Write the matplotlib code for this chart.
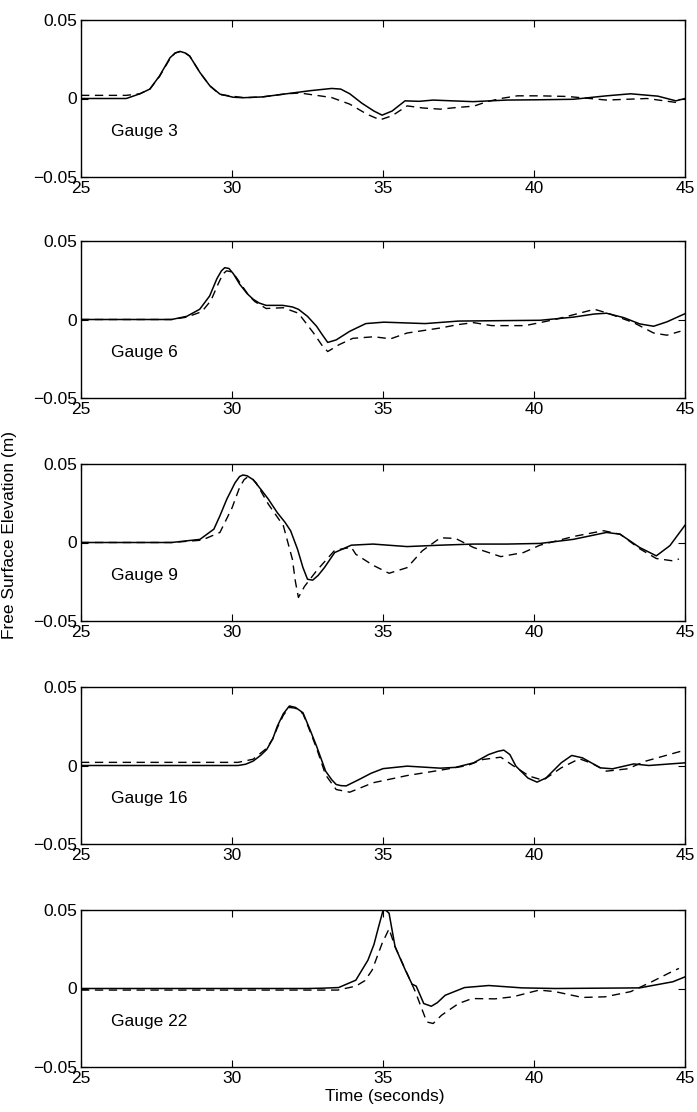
import numpy as np
import matplotlib.pyplot as plt

plt.rcParams['font.family'] = ['Liberation Sans', 'DejaVu Sans']
plt.rcParams['font.size'] = 12.5

# Gauge 3
t3_mod = [25, 26.5, 26.95, 27.28, 27.6, 27.95, 28.12, 28.28, 28.45, 28.6, 28.94, 29.27, 29.6, 30.04, 30.37, 31.0,
          31.8, 32.6, 33.3, 33.6, 33.9, 34.3, 34.7, 34.97, 35.3, 35.73, 36.2, 36.66, 37.3, 37.98, 39.1, 40.2,
          41.3, 42.4, 43.2, 44.1, 44.7, 45]
e3_mod = [0, 0, 0.003, 0.006, 0.0144, 0.026, 0.029, 0.030, 0.029, 0.027, 0.0165, 0.008, 0.0028, 0.0008, 0.0005, 0.001,
          0.003, 0.005, 0.0064, 0.006, 0.003, -0.003, -0.008, -0.0106, -0.008, -0.0015, -0.0018, -0.001, -0.0015, -0.002, -0.001, -0.0008,
          -0.0005, 0.0017, 0.003, 0.0015, -0.0015, 0]
t3_obs = [25, 26.5, 26.95, 27.28, 27.6, 27.95, 28.12, 28.3, 28.45, 28.6, 28.94, 29.27, 29.6, 30.4, 31.0, 31.8,
          32.25, 32.8, 33.3, 33.9, 34.47, 34.9, 35.3, 35.8, 36.3, 36.9, 37.45, 38.0, 38.45, 38.9, 39.45, 40.2,
          41.1, 41.85, 42.4, 43.2, 43.74, 44.7]
e3_obs = [0.002, 0.002, 0.003, 0.006, 0.014, 0.0255, 0.029, 0.030, 0.029, 0.027, 0.0165, 0.008, 0.0025, 0.0005, 0.001, 0.003,
          0.0035, 0.002, 0.0006, -0.0036, -0.010, -0.0136, -0.011, -0.0047, -0.006, -0.0068, -0.0057, -0.0049, -0.002, 0.0, 0.0017, 0.0017,
          0.0013, 0.0, -0.001, -0.0004, 0.0, -0.0025]

# Gauge 6
t6_mod = [25, 28.0, 28.5, 28.93, 29.26, 29.5, 29.65, 29.76, 29.9, 30.05, 30.25, 30.5, 30.7, 30.9, 31.13, 31.68,
          32.0, 32.2, 32.5, 32.8, 33.0, 33.17, 33.45, 33.9, 34.43, 35.03, 36.4, 37.5, 39.1, 40.2, 41.3, 42.0,
          42.4, 42.97, 43.5, 43.96, 44.4, 45]
e6_mod = [0, 0, 0.002, 0.0065, 0.015, 0.026, 0.031, 0.033, 0.0325, 0.029, 0.0226, 0.0165, 0.0129, 0.0105, 0.009, 0.009,
          0.008, 0.0065, 0.002, -0.0043, -0.010, -0.0146, -0.013, -0.0075, -0.0026, -0.0017, -0.0026, -0.001, -0.0007, -0.0005, 0.0015, 0.0035,
          0.004, 0.0012, -0.0028, -0.0043, -0.0015, 0.0037]
t6_obs = [25, 28.0, 28.5, 29.0, 29.3, 29.55, 29.7, 29.82, 29.95, 30.1, 30.35, 30.55, 30.75, 31.13, 31.7, 32.2,
          32.7, 33.0, 33.17, 33.55, 34.0, 34.7, 35.25, 35.8, 36.9, 37.5, 38.0, 38.6, 39.7, 40.2, 40.8, 41.5,
          42.0, 42.4, 43.3, 43.96, 44.4, 44.85]
e6_obs = [0, 0, 0.0015, 0.005, 0.012, 0.023, 0.029, 0.031, 0.0305, 0.028, 0.021, 0.0155, 0.0115, 0.007, 0.0075, 0.004,
          -0.0086, -0.017, -0.0204, -0.016, -0.012, -0.011, -0.0123, -0.0086, -0.0054, -0.0032, -0.002, -0.0039, -0.0039, -0.002, 0.0005, 0.004,
          0.0065, 0.0043, -0.002, -0.0086, -0.010, -0.0075]

# Gauge 9
t9_mod = [25, 28.0, 28.94, 29.4, 29.6, 29.83, 30.1, 30.25, 30.36, 30.5, 30.7, 30.95, 31.2, 31.5, 31.75, 31.94,
          32.17, 32.35, 32.5, 32.67, 32.85, 33.06, 33.4, 33.95, 34.67, 35.8, 36.9, 38.0, 39.1, 40.2, 41.3, 42.4,
          42.85, 43.5, 44.05, 44.5, 45]
e9_mod = [0, 0, 0.002, 0.0085, 0.017, 0.0277, 0.038, 0.042, 0.043, 0.0425, 0.040, 0.034, 0.0277, 0.019, 0.013, 0.0075,
          -0.0043, -0.016, -0.0234, -0.024, -0.021, -0.016, -0.0064, -0.0017, -0.001, -0.0026, -0.0017, -0.001, -0.001, -0.0006, 0.002, 0.0064,
          0.0053, -0.0032, -0.0085, -0.002, 0.011]
t9_obs = [25, 28.0, 29.0, 29.6, 30.0, 30.25, 30.4, 30.5, 30.65, 30.8, 31.2, 31.7, 32.0, 32.1, 32.2, 32.4,
          32.8, 33.4, 33.95, 34.1, 34.67, 35.2, 35.8, 36.3, 36.9, 37.4, 38.0, 38.9, 39.65, 40.2, 41.3, 42.3,
          42.85, 43.5, 44.05, 44.6, 44.8]
e9_obs = [0, 0, 0.0015, 0.0064, 0.022, 0.035, 0.040, 0.0415, 0.041, 0.038, 0.0245, 0.0107, -0.0107, -0.025, -0.035, -0.028,
          -0.018, -0.005, -0.003, -0.0075, -0.0145, -0.0196, -0.016, -0.0053, 0.003, 0.0026, -0.0032, -0.009, -0.0064, -0.0017, 0.0038, 0.0075,
          0.0053, -0.004, -0.0102, -0.0117, -0.0105]

# Gauge 16
t16_mod = [25, 30.2, 30.45, 30.7, 30.95, 31.15, 31.35, 31.5, 31.7, 31.9, 32.1, 32.35, 32.6, 32.8, 33.1, 33.3,
           33.45, 33.6, 33.78, 34.2, 34.6, 35.0, 35.8, 36.9, 37.4, 38.0, 38.5, 38.8, 39.0, 39.2, 39.4, 39.8,
           40.1, 40.4, 40.9, 41.25, 41.6, 42.2, 42.6, 43.3, 43.8, 45]
e16_mod = [0, 0, 0.0008, 0.0028, 0.0065, 0.0102, 0.017, 0.025, 0.033, 0.0379, 0.037, 0.0336, 0.022, 0.0123, -0.0036, -0.009,
           -0.0121, -0.0128, -0.013, -0.009, -0.005, -0.002, -0.0004, -0.0017, -0.0012, 0.0017, 0.007, 0.009, 0.0098, 0.007, -0.0004, -0.008,
           -0.0106, -0.0079, 0.0017, 0.0064, 0.0049, -0.0015, -0.0021, 0.001, 0.0, 0.0017]
t16_obs = [25, 30.2, 30.7, 31.15, 31.35, 31.5, 31.7, 31.9, 32.1, 32.35, 32.6, 32.8, 33.1, 33.45, 33.9, 34.67,
           35.8, 36.9, 37.8, 38.3, 38.9, 39.3, 39.85, 40.3, 40.9, 41.5, 41.9, 42.4, 43.1, 43.7, 45]
e16_obs = [0.002, 0.002, 0.004, 0.011, 0.017, 0.024, 0.032, 0.037, 0.0365, 0.033, 0.021, 0.011, -0.006, -0.0153, -0.017, -0.011,
           -0.0064, -0.003, 0.0, 0.0038, 0.0053, 0.0, -0.0068, -0.0094, -0.0015, 0.0043, 0.0015, -0.0036, -0.0021, 0.0028, 0.0098]

# Gauge 22
t22_mod = [25, 32.5, 33.0, 33.53, 34.1, 34.5, 34.7, 34.85, 35.02, 35.2, 35.4, 35.74, 35.96, 36.1, 36.35, 36.6,
           36.8, 37.06, 37.7, 38.5, 39.6, 40.7, 43.5, 44.6, 45]
e22_mod = [0, 0, 0.0002, 0.0006, 0.0053, 0.018, 0.028, 0.039, 0.051, 0.048, 0.0266, 0.0117, 0.0028, 0.0015, -0.0096, -0.0113,
           -0.009, -0.0043, 0.0006, 0.0019, 0.0004, 0.0, 0.0004, 0.0043, 0.0074]
t22_obs = [25, 33.5, 34.1, 34.4, 34.64, 34.97, 35.2, 35.4, 35.74, 36.07, 36.45, 36.66, 36.94, 37.5, 37.95, 38.7,
           39.3, 40.17, 40.7, 41.6, 42.35, 43.2, 43.9, 44.55, 44.8]
e22_obs = [-0.001, -0.001, 0.0015, 0.005, 0.0117, 0.0287, 0.038, 0.0266, 0.012, -0.002, -0.0213, -0.0223, -0.017, -0.0096, -0.0064, -0.0066,
           -0.0053, -0.001, -0.002, -0.0057, -0.0053, -0.002, 0.0043, 0.0106, 0.0128]

gauges = ['Gauge 3', 'Gauge 6', 'Gauge 9', 'Gauge 16', 'Gauge 22']
model = [(t3_mod, e3_mod), (t6_mod, e6_mod), (t9_mod, e9_mod), (t16_mod, e16_mod), (t22_mod, e22_mod)]
measured = [(t3_obs, e3_obs), (t6_obs, e6_obs), (t9_obs, e9_obs), (t16_obs, e16_obs), (t22_obs, e22_obs)]

fig = plt.figure(figsize=(6.97, 11.12), dpi=100)
W, H = 697, 1112
bottoms_px = [177, 398, 621, 844, 1067]
for i, name in enumerate(gauges):
    ax = fig.add_axes([81 / W, 1 - bottoms_px[i] / H, 604 / W, 157 / H])
    tm, em = model[i]
    to, eo = measured[i]
    ax.plot(tm, em, color='black', lw=1.1)
    ax.plot(to, eo, color='black', lw=1.0, dashes=(6, 4))
    ax.set_xlim(25, 45)
    ax.set_ylim(-0.05, 0.05)
    ax.set_xticks([25, 30, 35, 40, 45])
    ax.set_yticks([-0.05, 0, 0.05])
    ax.set_yticklabels(['\u22120.05', '0', '0.05'])
    ax.tick_params(direction='in', top=True, right=True, length=5, width=0.8, pad=3, labelsize=12.5)
    for s in ax.spines.values():
        s.set_linewidth(1.0)
    ax.text(26.0, -0.021, name, fontsize=12.5, va='center', ha='left')

fig.text(10 / W, 1 - 535 / H, 'Free Surface Elevation (m)', rotation=90, ha='center', va='center', fontsize=12.5)
fig.text(385 / W, 1 - 1096 / H, 'Time (seconds)', ha='center', va='center', fontsize=12.5)

fig.savefig('out.png', dpi=100)
